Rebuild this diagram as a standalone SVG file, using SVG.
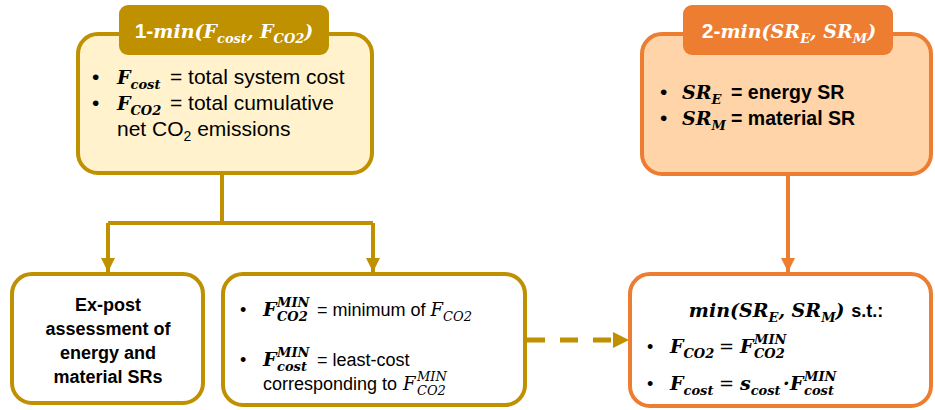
<svg xmlns="http://www.w3.org/2000/svg" width="935" height="410" viewBox="0 0 935 410">
<style>
.gbox{fill:#FFF2CC;stroke:#BF9000;stroke-width:4}
.obox{fill:#FFD4A8;stroke:#ED7D31;stroke-width:4}
.wgbox{fill:#FFFFFF;stroke:#BF9000;stroke-width:4}
.wobox{fill:#FFFFFF;stroke:#ED7D31;stroke-width:4}
.gtab{fill:#BF9000}
.otab{fill:#ED7D31}
.sans{font-family:"Liberation Sans","Open Sans",Arial,sans-serif;font-size:21px;fill:#000}
.b18{font-size:18px;font-weight:bold}
.r18{font-size:18px}
.bold{font-weight:bold}
.m{font-family:"DejaVu Serif","Liberation Serif",serif;font-style:italic;font-weight:bold;font-size:19px;fill:#000}
.mi{font-family:"DejaVu Serif","Liberation Serif",serif;font-style:italic;font-size:18px;fill:#000}
.eq{font-family:"DejaVu Serif","Liberation Serif",serif;font-size:18px;fill:#000}
.s{font-size:13px}
.wh{fill:#FFFFFF}
.gline{fill:none;stroke:#BF9000;stroke-width:4}
.oline{fill:none;stroke:#ED7D31;stroke-width:4}
</style>
<defs>
<marker id="ag" markerUnits="userSpaceOnUse" markerWidth="16" markerHeight="14" refX="14" refY="7" orient="auto">
<path d="M0,0 L14,7 L0,14 Z" fill="#BF9000"/>
</marker>
<marker id="ao" markerUnits="userSpaceOnUse" markerWidth="16" markerHeight="14" refX="14" refY="7" orient="auto">
<path d="M0,0 L14,7 L0,14 Z" fill="#ED7D31"/>
</marker>
</defs>

<g id="connectors">
<path class="gline" d="M222 173 V223"/>
<path class="gline" d="M108 223 H373"/>
<path class="gline" d="M108 223 V272" marker-end="url(#ag)"/>
<path class="gline" d="M373 223 V272" marker-end="url(#ag)"/>
<path class="oline" d="M788 175 V272" marker-end="url(#ao)"/>
<path d="M527 340 H616" fill="none" stroke="#BF9000" stroke-width="5" stroke-dasharray="18 15"/>
<path d="M613 332 L629 340 L613 348 Z" fill="#BF9000"/>
</g>

<g id="node-min-cost-co2">
<rect class="gbox" x="78" y="34" width="294" height="139" rx="20"/>
<rect class="gtab" x="119" y="5" width="210" height="50" rx="9"/>
<text x="224" y="38" text-anchor="middle"><tspan class="sans bold wh">1-</tspan><tspan class="m wh">min(F</tspan><tspan class="m wh s" dy="5">cost</tspan><tspan class="m wh" dy="-5">, F</tspan><tspan class="m wh s" dy="5">CO2</tspan><tspan class="m wh" dy="-5">)</tspan></text>
<text class="sans" x="92" y="84">•</text>
<text x="117" y="84"><tspan class="m">F</tspan><tspan class="m s" dy="5">cost</tspan></text>
<text class="sans" x="170" y="84">= total system cost</text>
<text class="sans" x="92" y="110">•</text>
<text x="117" y="110"><tspan class="m">F</tspan><tspan class="m s" dy="5">CO2</tspan></text>
<text class="sans" x="170" y="110">= total cumulative</text>
<text class="sans" x="117" y="136">net CO<tspan style="font-size:14px" dy="5">2</tspan><tspan dy="-5"> emissions</tspan></text>
</g>

<g id="node-min-sr">
<rect class="obox" x="642" y="34" width="289" height="140" rx="20"/>
<rect class="otab" x="683" y="5" width="210" height="50" rx="9"/>
<text x="789" y="38" text-anchor="middle"><tspan class="sans bold wh">2-</tspan><tspan class="m wh">min(SR</tspan><tspan class="m wh s" dy="5">E</tspan><tspan class="m wh" dy="-5">, SR</tspan><tspan class="m wh s" dy="5">M</tspan><tspan class="m wh" dy="-5">)</tspan></text>
<text class="sans" x="660" y="99">•</text>
<text x="682" y="99"><tspan class="m">SR</tspan><tspan class="m s" dy="5">E</tspan></text>
<text class="sans bold" x="731" y="99" style="font-size:19.5px">= energy SR</text>
<text class="sans" x="660" y="125">•</text>
<text x="682" y="125"><tspan class="m">SR</tspan><tspan class="m s" dy="5">M</tspan></text>
<text class="sans bold" x="731" y="125" style="font-size:19.5px">= material SR</text>
</g>

<g id="node-expost">
<rect class="wgbox" x="12" y="274" width="191" height="129" rx="20"/>
<text class="sans b18" text-anchor="middle" x="108" y="311">Ex-post</text>
<text class="sans b18" text-anchor="middle" x="108" y="335">assessment of</text>
<text class="sans b18" text-anchor="middle" x="108" y="359">energy and</text>
<text class="sans b18" text-anchor="middle" x="108" y="383">material SRs</text>
</g>

<g id="node-fmin">
<rect class="wgbox" x="223" y="274" width="302" height="131" rx="20"/>
<text class="sans r18" x="240" y="316">•</text>
<text class="m" x="263" y="316">F</text>
<text class="m s" x="277" y="307">MIN</text>
<text class="m s" x="277" y="321">CO2</text>
<text class="sans r18" x="317" y="316">= minimum of <tspan class="mi">F</tspan><tspan class="mi s" dy="5">CO2</tspan></text>
<text class="sans r18" x="240" y="366">•</text>
<text class="m" x="263" y="366">F</text>
<text class="m s" x="277" y="357">MIN</text>
<text class="m s" x="277" y="371">cost</text>
<text class="sans r18" x="317" y="366">= least-cost</text>
<text class="sans r18" x="263" y="390">corresponding to</text>
<text class="mi" x="403" y="390">F</text>
<text class="mi s" x="417" y="381">MIN</text>
<text class="mi s" x="417" y="395">CO2</text>
</g>

<g id="node-constrained">
<rect class="wobox" x="630" y="274" width="301" height="132" rx="20"/>
<text x="786" y="317" text-anchor="middle"><tspan class="m">min(SR</tspan><tspan class="m s" dy="5">E</tspan><tspan class="m" dy="-5">, SR</tspan><tspan class="m s" dy="5">M</tspan><tspan class="m" dy="-5">) </tspan><tspan class="sans b18">s.t.:</tspan></text>
<text class="sans r18" x="647" y="353">•</text>
<text x="670" y="353"><tspan class="m">F</tspan><tspan class="m s" dy="5">CO2</tspan></text>
<text class="eq" x="719" y="353">=</text>
<text class="m" x="740" y="353">F</text>
<text class="m s" x="754" y="344">MIN</text>
<text class="m s" x="754" y="358">CO2</text>
<text class="sans r18" x="647" y="390">•</text>
<text x="670" y="390"><tspan class="m">F</tspan><tspan class="m s" dy="5">cost</tspan></text>
<text class="eq" x="719" y="390">=</text>
<text x="740" y="390"><tspan class="m">s</tspan><tspan class="m s" dy="5">cost</tspan></text>
<text class="m" x="783" y="390">·</text>
<text class="m" x="790" y="390">F</text>
<text class="m s" x="804" y="381">MIN</text>
<text class="m s" x="804" y="395">cost</text>
</g>
</svg>
